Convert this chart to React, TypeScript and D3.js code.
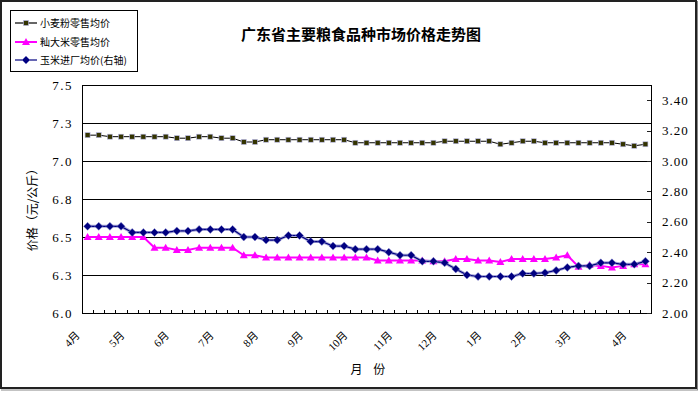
import * as d3 from "d3";

// weekly prices, April to April
const wheat = [
  7.17, 7.17, 7.16, 7.16, 7.16, 7.16, 7.16, 7.16, 7.15, 7.15,
  7.16, 7.16, 7.15, 7.15, 7.125, 7.125, 7.14, 7.14, 7.14, 7.14,
  7.14, 7.14, 7.14, 7.14, 7.12, 7.12, 7.12, 7.12, 7.12, 7.12,
  7.12, 7.12, 7.13, 7.13, 7.13, 7.13, 7.13, 7.11, 7.12, 7.13,
  7.13, 7.12, 7.12, 7.12, 7.12, 7.12, 7.12, 7.12, 7.11, 7.10,
  7.11,
];
const rice = [
  6.5, 6.5, 6.5, 6.5, 6.5, 6.5, 6.43, 6.43, 6.415, 6.415,
  6.43, 6.43, 6.43, 6.43, 6.38, 6.38, 6.365, 6.365, 6.365, 6.365,
  6.365, 6.365, 6.365, 6.365, 6.365, 6.365, 6.345, 6.345, 6.345, 6.345,
  6.345, 6.34, 6.34, 6.355, 6.355, 6.345, 6.345, 6.335, 6.355, 6.355,
  6.355, 6.355, 6.365, 6.38, 6.305, 6.315, 6.31, 6.3, 6.31, 6.32,
  6.32,
];
const corn = [
  2.57, 2.57, 2.57, 2.57, 2.53, 2.53, 2.53, 2.53, 2.54, 2.54,
  2.55, 2.55, 2.55, 2.55, 2.5, 2.5, 2.48, 2.48, 2.51, 2.51,
  2.47, 2.47, 2.44, 2.44, 2.42, 2.42, 2.42, 2.4, 2.38, 2.38,
  2.34, 2.34, 2.33, 2.29, 2.25, 2.24, 2.24, 2.24, 2.24, 2.26,
  2.26, 2.265, 2.28, 2.3, 2.31, 2.31, 2.33, 2.33, 2.32, 2.32,
  2.34,
];

const monthLabels = ["4月", "5月", "6月", "7月", "8月", "9月", "10月", "11月", "12月", "1月", "2月", "3月", "4月"];
const monthIndex = [0, 4, 8, 12, 16, 20, 24, 28, 32, 36, 40, 44, 49];

const leftTicks = [6.0, 6.25, 6.5, 6.75, 7.0, 7.25, 7.5];
const leftTickLabels = ["6.0", "6.3", "6.5", "6.8", "7.0", "7.3", "7.5"];
const rightTicks = [2.0, 2.2, 2.4, 2.6, 2.8, 3.0, 3.2, 3.4];
const rightTickLabels = ["2.00", "2.20", "2.40", "2.60", "2.80", "3.00", "3.20", "3.40"];

const seriesNames = ["小麦粉零售均价", "籼大米零售均价", "玉米进厂均价(右轴)"];

const W = 700;
const H = 393;
const margin = { top: 85, right: 49, bottom: 80, left: 82 };
const serif = "'Liberation Serif', 'Noto Sans CJK SC', serif";
const cjk = "'Noto Sans CJK SC', sans-serif";

const square = (cx: number, cy: number) => (
  <rect x={cx - 2.5} y={cy - 2.5} width={5} height={5} fill="#333300" stroke="#b8b8e8" strokeWidth={0.6} />
);
const triangle = (cx: number, cy: number) => (
  <path d={`M${cx},${cy - 4}L${cx + 4},${cy + 3}L${cx - 4},${cy + 3}Z`} fill="#ff00ff" />
);
const diamond = (cx: number, cy: number) => (
  <path d={`M${cx},${cy - 4}L${cx + 4},${cy}L${cx},${cy + 4}L${cx - 4},${cy}Z`} fill="#000080" stroke="#8888cc" strokeWidth={0.5} />
);

export default function App() {
  const x0 = margin.left;
  const x1 = W - margin.right;
  const y0 = margin.top;
  const y1 = H - margin.bottom;

  const x = d3.scaleBand<number>().domain(d3.range(wheat.length)).range([x0, x1]);
  const cx = (i: number) => (x(i) as number) + x.bandwidth() / 2;
  const yL = d3.scaleLinear().domain([6.0, 7.5]).range([y1, y0]);
  const yR = d3.scaleLinear().domain([2.0, 3.5]).range([y1, y0]);

  const lineL = d3.line<number>().x((_, i) => cx(i)).y((d) => yL(d));
  const lineR = d3.line<number>().x((_, i) => cx(i)).y((d) => yR(d));

  const legendY = [23, 42, 60];

  return (
    <svg width={W} height={H} style={{ position: "absolute", left: 0, top: 0, background: "#fff" }}>
      {/* outer frame */}
      <rect x={1} y={1} width={695} height={387} fill="none" stroke="#222" strokeWidth={2} />
      <line x1={697.5} y1={1} x2={697.5} y2={390} stroke="#888" />
      <line x1={1} y1={390} x2={698} y2={390} stroke="#888" />

      {/* title */}
      <text x={361} y={40} textAnchor="middle" fontFamily={cjk} fontSize={15} fontWeight={700}>
        广东省主要粮食品种市场价格走势图
      </text>

      {/* grid */}
      {leftTicks.map((t) => (
        <line key={t} x1={x0} x2={x1} y1={Math.round(yL(t)) + 0.5} y2={Math.round(yL(t)) + 0.5} stroke="#000" />
      ))}
      <line x1={x0 + 0.5} x2={x0 + 0.5} y1={y0} y2={y1 + 1} stroke="#000" />
      <line x1={x1 + 0.5} x2={x1 + 0.5} y1={y0} y2={y1 + 1} stroke="#000" />

      {/* left axis labels */}
      {leftTicks.map((t, i) => (
        <text key={t} x={73} y={yL(t)} dy="0.35em" textAnchor="end" fontFamily={serif} fontSize={13} letterSpacing={1.5}>
          {leftTickLabels[i]}
        </text>
      ))}

      {/* right axis ticks + labels */}
      {rightTicks.map((t, i) => (
        <g key={t}>
          <line x1={x1 - 4} x2={x1} y1={Math.round(yR(t)) + 0.5} y2={Math.round(yR(t)) + 0.5} stroke="#222" />
          <text x={662} y={yR(t)} dy="0.35em" fontFamily={serif} fontSize={13} letterSpacing={1}>
            {rightTickLabels[i]}
          </text>
        </g>
      ))}

      {/* bottom ticks */}
      {d3.range(1, wheat.length).map((i) => (
        <line key={i} x1={Math.round(x(i) as number) + 0.5} x2={Math.round(x(i) as number) + 0.5} y1={y1 - 3} y2={y1} stroke="#000" />
      ))}

      {/* month labels */}
      {monthIndex.map((m, i) => (
        <text
          key={i}
          transform={`translate(${cx(m) - 7},${y1 + 23}) rotate(-45)`}
          textAnchor="end"
          fontFamily={serif}
          fontSize={11}
        >
          {monthLabels[i]}
        </text>
      ))}

      {/* axis titles */}
      <text transform={`translate(37,${(y0 + y1) / 2 + 8}) rotate(-90)`} textAnchor="middle" fontFamily={cjk} fontSize={12}>
        价格（元/公斤）
      </text>
      <text x={368} y={374} textAnchor="middle" fontFamily={cjk} fontSize={12} xmlSpace="preserve">
        月    份
      </text>

      {/* series */}
      <path d={lineL(wheat) ?? ""} fill="none" stroke="#000" strokeWidth={1} />
      {wheat.map((d, i) => <g key={i}>{square(cx(i), yL(d))}</g>)}

      <path d={lineL(rice) ?? ""} fill="none" stroke="#ff00ff" strokeWidth={2} />
      {rice.map((d, i) => <g key={i}>{triangle(cx(i), yL(d))}</g>)}

      <path d={lineR(corn) ?? ""} fill="none" stroke="#a8a8d8" strokeWidth={3} />
      <path d={lineR(corn) ?? ""} fill="none" stroke="#000080" strokeWidth={1.2} />
      {corn.map((d, i) => <g key={i}>{diamond(cx(i), yR(d))}</g>)}

      {/* legend */}
      <rect x={10.5} y={10.5} width={127} height={61} fill="#fff" stroke="#000" />
      {seriesNames.map((name, i) => (
        <g key={name}>
          <line
            x1={15}
            x2={37}
            y1={legendY[i]}
            y2={legendY[i]}
            stroke={i === 0 ? "#000" : i === 1 ? "#ff00ff" : "#000080"}
            strokeWidth={i === 1 ? 2 : 1.2}
          />
          {i === 0 ? square(26, legendY[i]) : i === 1 ? triangle(26, legendY[i]) : diamond(26, legendY[i])}
          <text x={40} y={legendY[i]} dy="0.35em" fontFamily={cjk} fontSize={10}>
            {name}
          </text>
        </g>
      ))}
    </svg>
  );
}
